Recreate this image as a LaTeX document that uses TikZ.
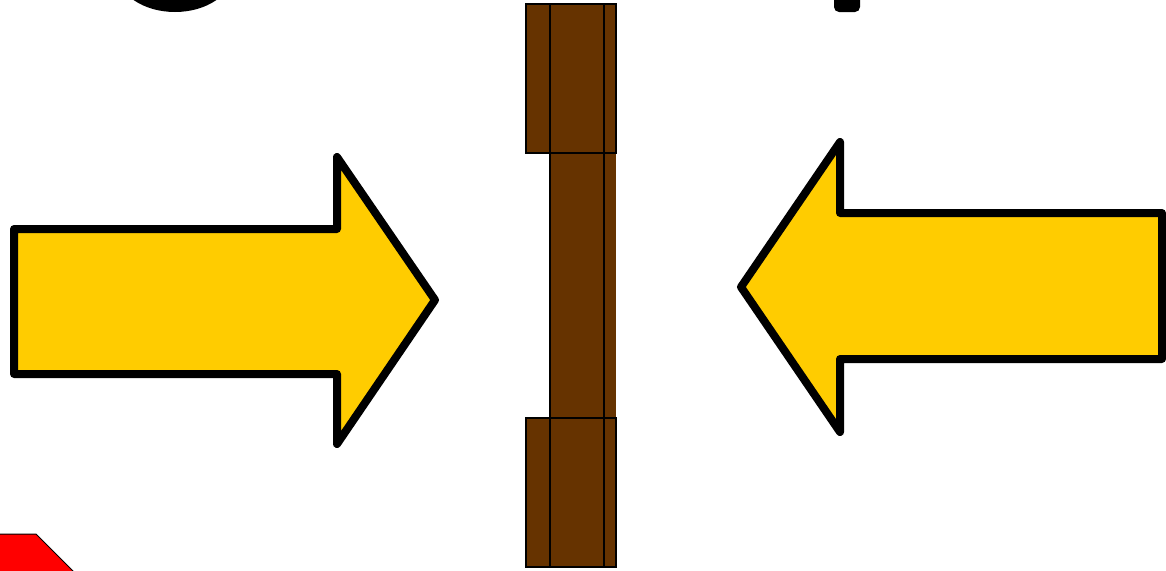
\documentclass[tikz,border=0pt]{standalone}
\definecolor{arrowyellow}{HTML}{FFCC00}
\definecolor{postbrown}{HTML}{663300}
\tikzset{
  bigarrow/.style={fill=arrowyellow, draw=black, line width=8pt, line join=round},
  postpart/.style={fill=postbrown, draw=black, line width=1.6pt},
  glyph/.style={fill=black, draw=none},
}
\begin{document}
\begin{tikzpicture}[x=1pt, y=-1pt]
\useasboundingbox (0,0) rectangle (1166,570);
\clip (0,0) rectangle (1166,570);
% cut-off text fragments at the top
\fill[glyph] (175,-28) ellipse [x radius=58, y radius=40];
\fill[glyph, rounded corners=5pt] (834,-20) rectangle (860,12);
% red shape bottom left
\draw[fill=red, draw=black, line width=1pt] (-5,534) -- (36,534) -- (76,574) -- (-5,574) -- cycle;
% left arrow
\draw[bigarrow] (14,229) -- (337,229) -- (337,157) -- (435,300) -- (337,444) -- (337,374) -- (14,374) -- cycle;
% right arrow
\draw[bigarrow] (1162,213) -- (840,213) -- (840,142) -- (741,287) -- (840,432) -- (840,359) -- (1162,359) -- cycle;
% brown post
\fill[postbrown] (550,4) rectangle (616,567);
\draw[postpart] (526,4) rectangle (616,153);
\draw[postpart] (526,418) rectangle (616,567);
\draw[postpart, fill=none] (550,4) rectangle (604,567);
\end{tikzpicture}
\end{document}
